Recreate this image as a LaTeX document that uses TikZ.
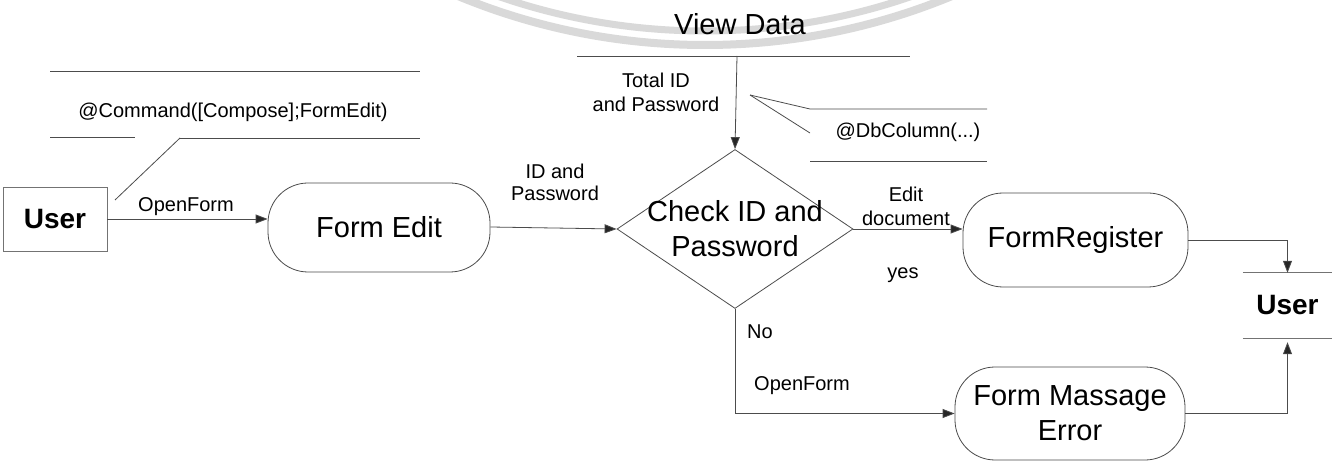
\documentclass[tikz,border=0pt]{standalone}
\usepackage{fontspec}
\setmainfont{Liberation Sans}
\usetikzlibrary{shapes.geometric,arrows.meta}
\begin{document}
\begin{tikzpicture}[x=1pt,y=-1pt,
  ln/.style={draw=black!70, line width=0.8pt},
  arr/.style={ln, -{Triangle[length=12pt,width=9pt,fill=black!85]}},
  proc/.style={ln, rounded corners=40pt, inner sep=0pt, font=\fontsize{29}{35}\selectfont, align=center},
  lbl/.style={font=\fontsize{20}{24}\selectfont, align=center, inner sep=0pt},
  big/.style={font=\fontsize{29}{35}\selectfont, align=center, inner sep=0pt},
  ent/.style={font=\fontsize{28}{34}\selectfont\bfseries, inner sep=0pt}
]
\useasboundingbox (0,0) rectangle (1339,462);
\fill[white] (0,0) rectangle (1339,462);
% watermark arcs
\begin{scope}
\clip (0,0) rectangle (1339,462);
\draw[gray!30, line width=8pt] (705,-600) circle[radius=645];
\draw[gray!30, line width=7pt] (705,-600) circle[radius=631];
\end{scope}

% left user entity
\node[ent, draw=black!55, line width=0.6pt, minimum width=104pt, minimum height=64pt] (userL) at (55,219) {User};

% @Command data store
\node[lbl] (cmd) at (233,112) {@Command([Compose];FormEdit)};
\draw[ln] (50,71) -- (420,71);
\draw[ln] (50,137) -- (135,137);
\coordinate (cmdb) at (180,138);
\draw[ln] (cmdb) -- (420,138);
\coordinate (ucall) at (115,200);
\draw[ln] (ucall) -- (cmdb);

% Form Edit
\node[proc, minimum width=222pt, minimum height=89pt] (fedit) at (379,227.5) {Form Edit};
\draw[arr] (userL.east) -- (userL.east -| fedit.west);
\node[lbl] (of1) at (186,207) {OpenForm};

% decision
\node[diamond, ln, minimum width=236pt, minimum height=159pt, inner sep=0pt] (chk) at (735,229) {};
\node[big] (chkt) at (chk.center) {Check ID and\\Password};
\draw[arr] (fedit.east |- 0,227) -- (chk.west);
\node[lbl, font=\fontsize{20}{22}\selectfont] (idp) at (555,182) {ID and\\Password};

% View Data store
\node[big] (vd) at (740,24) {View Data};
\coordinate (vdl) at (737,56);
\draw[ln] (577,56) -- (910,56);
\draw[arr] (vdl) -- (chk.north);
\node[lbl] (tid) at (656,92) {Total ID\\and Password};

% @DbColumn callout
\coordinate (dbv) at (750,95);
\node[lbl] (db) at (908,132) {@DbColumn(...)};
\draw[ln] (dbv) -- (810,109) -- (987,109);
\draw[ln] (dbv) -- (810,133);
\draw[ln] (810,161) -- (987,161);

% FormRegister
\node[proc, minimum width=225pt, minimum height=94pt] (freg) at (1075.5,240) {FormRegister};
\draw[arr] (chk.east) -- (chk.east -| freg.west);
\node[lbl] (ed) at (906,206) {Edit\\document};
\node[lbl] (yes) at (903,275) {yes};

% Form Massage Error
\node[proc, minimum width=230pt, minimum height=93pt] (ferr) at (1070,413.5) {Form Massage\\Error};
\draw[arr] (chk.south) |- (ferr.west);
\node[lbl] (no) at (760,332) {No};
\node[lbl] (of2) at (802,386) {OpenForm};

% right user entity
\node[ent, minimum width=89pt, minimum height=65pt] (userR) at (1287.5,305.5) {User};
\draw[ln, draw=black!55] (userR.north west) -- (userR.north east);
\draw[ln, draw=black!55] (userR.south west) -- (userR.south east);
\draw[arr] (freg.east) -| (userR.north);
\draw[arr] (ferr.east) -| ([yshift=-4pt]userR.south);
\end{tikzpicture}
\end{document}
